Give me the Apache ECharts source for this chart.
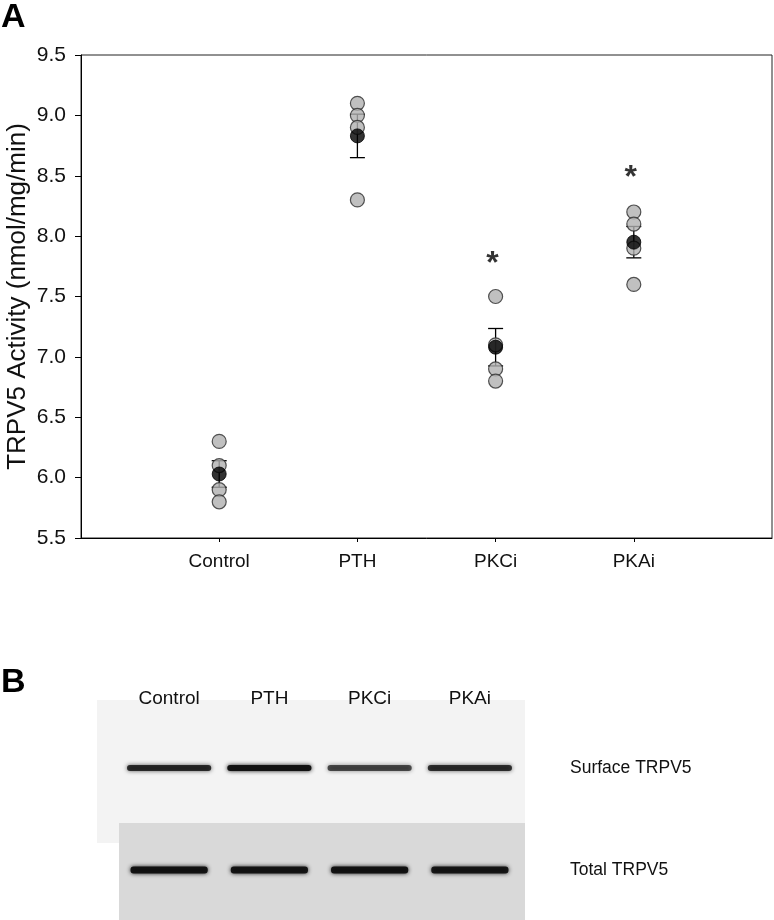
<!DOCTYPE html>
<html>
<head>
<meta charset="utf-8">
<script src="https://cdn.jsdelivr.net/npm/echarts@6/dist/echarts.min.js"></script>
<style>
html,body{margin:0;padding:0;background:#fff;}
#chart{width:774px;height:920px;}
</style>
</head>
<body>
<div id="chart"></div>
<script>
// ---- Panel A data ----
const groups = ['Control', 'PTH', 'PKCi', 'PKAi'];
const groupPos = [1, 2, 3, 4];
const controlPts = [6.3, 6.1, 5.9, 5.8];
const pthPts = [9.1, 9.0, 8.9, 8.3];
const pkciPts = [7.5, 7.1, 6.9, 6.8];
const pkaiPts = [8.2, 8.1, 7.9, 7.6];
const means = [6.03, 8.83, 7.08, 7.95];
const sems = [0.11, 0.18, 0.155, 0.13];
const sigGroups = [3, 4];
const sigY = [7.83, 8.55];
const yMin = 5.5, yMax = 9.5, yStep = 0.5;

// ---- Panel B data (band intensities, 0..1) ----
const blotRows = ['Surface TRPV5', 'Total TRPV5'];
const surfaceIntensity = [0.82, 0.97, 0.68, 0.8];
const totalIntensity = [0.97, 0.95, 0.97, 0.93];

const FONT = '"Liberation Sans", Arial, sans-serif';

const allPts = [controlPts, pthPts, pkciPts, pkaiPts];
const ptData = [];
allPts.forEach((arr, i) => arr.forEach(v => ptData.push([groupPos[i], v])));
const meanData = means.map((m, i) => [groupPos[i], m, sems[i]]);
const sigData = sigGroups.map((g, i) => [g, sigY[i]]);

const bandData = [];
surfaceIntensity.forEach((v, i) => bandData.push([i, 0, v]));
totalIntensity.forEach((v, i) => bandData.push([i, 1, v]));

const chart = echarts.init(document.getElementById('chart'));
chart.setOption({
  animation: false,
  backgroundColor: '#fff',
  textStyle: { fontFamily: FONT },
  graphic: [
    { type: 'text', left: 1, top: 1, style: { text: 'A', font: 'bold 34px ' + FONT, fill: '#000' } },
    { type: 'text', left: 1, top: 666, style: { text: 'B', font: 'bold 34px ' + FONT, fill: '#000' } },
    { type: 'rect', shape: { x: 97, y: 700, width: 428, height: 143 }, style: { fill: '#f3f3f3' }, z: -10 },
    { type: 'rect', shape: { x: 119, y: 823, width: 406, height: 97 }, style: { fill: '#d9d9d9' }, z: -9 }
  ],
  grid: [
    { left: 81, top: 55, width: 691, height: 483, show: true, borderColor: '#222', borderWidth: 1,
      backgroundColor: 'transparent', containLabel: false, outerBoundsMode: 'none' },
    { left: 119, top: 717, width: 401, height: 204, containLabel: false, outerBoundsMode: 'none' }
  ],
  xAxis: [
    {
      type: 'value', gridIndex: 0, min: 0, max: 5, interval: 1,
      axisLine: { show: true, lineStyle: { color: '#000', width: 1 } },
      axisTick: { show: true, length: 4, customValues: groupPos, lineStyle: { color: '#000' } },
      axisLabel: { customValues: groupPos, formatter: v => groups[v - 1] || '', fontSize: 19, color: '#111', margin: 14, fontFamily: FONT },
      splitLine: { show: false }
    },
    {
      type: 'category', gridIndex: 1, data: groups, position: 'top',
      axisLine: { show: false }, axisTick: { show: false },
      axisLabel: { fontSize: 19, color: '#111', margin: 9, fontFamily: FONT },
      splitLine: { show: false }
    }
  ],
  yAxis: [
    {
      type: 'value', gridIndex: 0, min: yMin, max: yMax, interval: yStep,
      name: 'TRPV5 Activity (nmol/mg/min)', nameLocation: 'middle', nameGap: 50, nameMoveOverlap: false,
      nameTextStyle: { fontSize: 26, color: '#111', fontFamily: FONT },
      axisLine: { show: true, lineStyle: { color: '#000', width: 1 } },
      axisTick: { show: true, length: 6, lineStyle: { color: '#000' } },
      axisLabel: { formatter: v => v.toFixed(1), fontSize: 21, color: '#111', margin: 15, fontFamily: FONT },
      splitLine: { show: false }
    },
    {
      type: 'category', gridIndex: 1, data: blotRows, inverse: true, position: 'right',
      axisLine: { show: false }, axisTick: { show: false },
      axisLabel: { fontSize: 17.5, color: '#111', margin: 50, fontFamily: FONT },
      splitLine: { show: false }
    }
  ],
  series: [
    {
      type: 'scatter', xAxisIndex: 0, yAxisIndex: 0, data: ptData, symbol: 'circle', symbolSize: 14,
      itemStyle: { color: '#b0b0b0', borderColor: '#2a2a2a', borderWidth: 1.2 }
    },
    {
      type: 'custom', xAxisIndex: 0, yAxisIndex: 0, data: meanData,
      renderItem: function (params, api) {
        const x = api.value(0), m = api.value(1), s = api.value(2);
        const top = api.coord([x, m + s]);
        const bot = api.coord([x, m - s]);
        const hw = 7.5;
        const st = { stroke: '#000', lineWidth: 1.3 };
        return {
          type: 'group', children: [
            { type: 'line', shape: { x1: top[0], y1: top[1], x2: bot[0], y2: bot[1] }, style: st },
            { type: 'line', shape: { x1: top[0] - hw, y1: top[1], x2: top[0] + hw, y2: top[1] }, style: st },
            { type: 'line', shape: { x1: bot[0] - hw, y1: bot[1], x2: bot[0] + hw, y2: bot[1] }, style: st }
          ]
        };
      }
    },
    {
      type: 'scatter', xAxisIndex: 0, yAxisIndex: 0, data: meanData.map(d => [d[0], d[1]]), symbol: 'circle', symbolSize: 14,
      itemStyle: { color: '#000', borderColor: '#000', borderWidth: 1 }
    },
    {
      type: 'scatter', xAxisIndex: 0, yAxisIndex: 0, data: sigData, symbolSize: 0,
      label: { show: true, position: 'inside', formatter: '*', fontSize: 32, fontWeight: 'bold', color: '#000', offset: [-3, 8], fontFamily: FONT }
    },
    {
      type: 'custom', xAxisIndex: 1, yAxisIndex: 1, data: bandData,
      renderItem: function (params, api) {
        const c = api.coord([api.value(0), api.value(1)]);
        const row = api.value(1);
        const a = api.value(2);
        const laneW = api.size([1, 0])[0];
        const w = laneW * (row === 0 ? 0.84 : 0.77);
        const h = row === 0 ? 6 : 7;
        const col = 'rgba(15,15,15,' + a + ')';
        return {
          type: 'rect',
          shape: { x: c[0] - w / 2, y: c[1] - h / 2, width: w, height: h, r: 3 },
          style: { fill: col, shadowBlur: 4, shadowColor: col }
        };
      }
    }
  ]
});
</script>
</body>
</html>
